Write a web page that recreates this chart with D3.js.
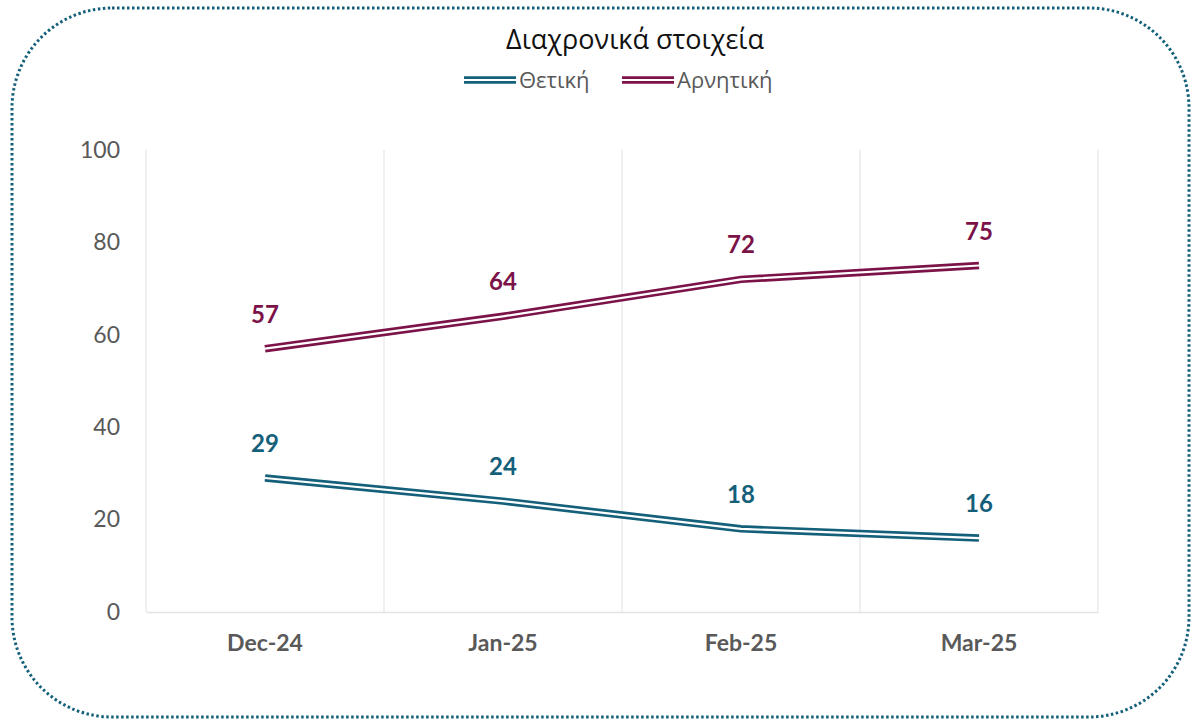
<!DOCTYPE html>
<html><head><meta charset="utf-8">
<script src="https://cdn.jsdelivr.net/npm/d3@7"></script>
<style>html,body{margin:0;padding:0;background:#fff;}svg{display:block;}</style>
</head><body>
<svg id="chart" width="1192" height="721"></svg>
<script>
const categories = ["Dec-24", "Jan-25", "Feb-25", "Mar-25"];
const positive = [29, 24, 18, 16];
const negative = [57, 64, 72, 75];
const seriesNames = ["Θετική", "Αρνητική"];
const yTicks = [0, 20, 40, 60, 80, 100];
const title = "Διαχρονικά στοιχεία";

const colors = ["#14607a", "#7b1248"];
const svg = d3.select("#chart");

// border
svg.append("rect").attr("x", 12).attr("y", 8).attr("width", 1177).attr("height", 709)
  .attr("rx", 100).attr("ry", 100).attr("fill", "none")
  .attr("stroke", "#14607a").attr("stroke-width", 3).attr("stroke-dasharray", "2.5 2.5");

const x = d3.scaleBand().domain(categories).range([146, 1098]);
const y = d3.scaleLinear().domain([0, 100]).range([612, 150]);

// vertical gridlines at category boundaries
const bounds = categories.map(c => x(c)).concat([x.range()[1]]);
svg.append("g").selectAll("line").data(bounds).join("line")
  .attr("x1", d => d).attr("x2", d => d).attr("y1", y(100)).attr("y2", y(0))
  .attr("stroke", "#e8e8e8").attr("stroke-width", 1.3);

// y axis labels
const yAxis = d3.axisLeft(y).tickValues(yTicks).tickSize(0).tickPadding(26);
const gy = svg.append("g").attr("transform", "translate(146,0)").call(yAxis);
gy.select(".domain").remove();
gy.selectAll("text").attr("font-family", "Lato, 'Open Sans', sans-serif").attr("font-size", 23).attr("fill", "#595959");

// x axis
const xAxis = d3.axisBottom(x).tickSize(0).tickPadding(23);
const gx = svg.append("g").attr("transform", "translate(0,612)").call(xAxis);
gx.select(".domain").attr("stroke", "#e3e3e3").attr("stroke-width", 1.5);
gx.selectAll("text").attr("font-family", "Lato, 'Open Sans', sans-serif").attr("font-size", 23)
  .attr("font-weight", "bold").attr("fill", "#595959");

const series = [positive, negative];
const line = d3.line().x((d, i) => x(categories[i]) + x.bandwidth() / 2).y(d => y(d));

series.forEach((vals, si) => {
  const g = svg.append("g");
  g.append("path").datum(vals).attr("d", line).attr("fill", "none")
    .attr("stroke", colors[si]).attr("stroke-width", 7.5);
  g.append("path").datum(vals).attr("d", line).attr("fill", "none")
    .attr("stroke", "#fff").attr("stroke-width", 2.2);
  g.selectAll("text").data(vals).join("text")
    .attr("x", (d, i) => x(categories[i]) + x.bandwidth() / 2)
    .attr("y", d => y(d) - 26)
    .attr("text-anchor", "middle")
    .attr("font-family", "Lato, 'Open Sans', sans-serif").attr("font-size", 24).attr("font-weight", "bold")
    .attr("fill", colors[si]).text(d => d);
});

// title
svg.append("text").attr("x", 635).attr("y", 49).attr("text-anchor", "middle")
  .attr("font-family", "'Open Sans', 'Noto Sans', sans-serif").attr("font-size", 27).attr("fill", "#111")
  .text(title);

// legend
const legendItems = [{x: 464, name: seriesNames[0], c: colors[0]}, {x: 622, name: seriesNames[1], c: colors[1]}];
legendItems.forEach(it => {
  const g = svg.append("g");
  g.append("line").attr("x1", it.x).attr("x2", it.x + 52).attr("y1", 80).attr("y2", 80)
    .attr("stroke", it.c).attr("stroke-width", 7.5);
  g.append("line").attr("x1", it.x).attr("x2", it.x + 52).attr("y1", 80).attr("y2", 80)
    .attr("stroke", "#fff").attr("stroke-width", 2.2);
  g.append("text").attr("x", it.x + 55).attr("y", 88)
    .attr("font-family", "'Open Sans', 'Noto Sans', sans-serif").attr("font-size", 22).attr("fill", "#595959")
    .text(it.name);
});
</script>
</body></html>
